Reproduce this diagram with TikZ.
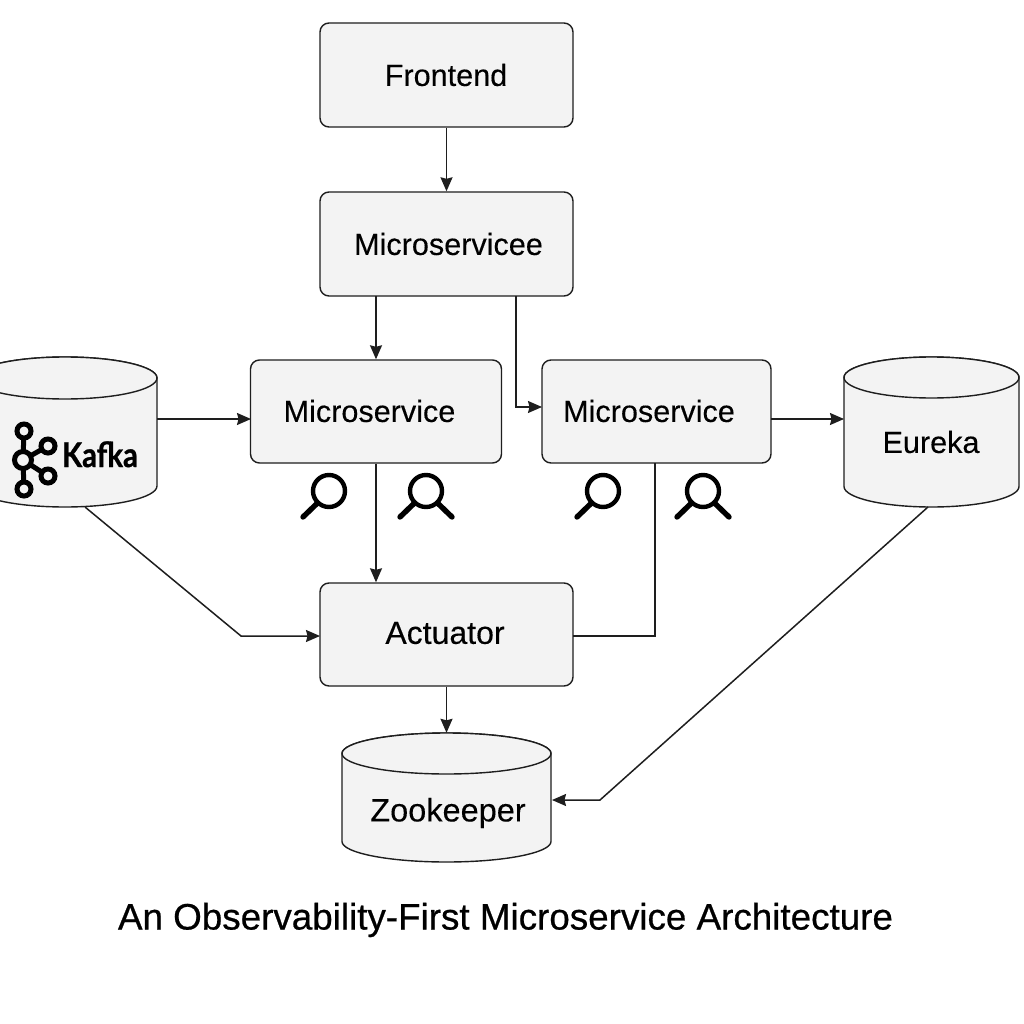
\documentclass[tikz,border=0pt]{standalone}
\usepackage{fontspec}
\setmainfont[RawFeature={embolden=0.25}]{Liberation Sans}
\newfontfamily\titlefont[RawFeature={embolden=0.6}]{Liberation Sans}
\newfontfamily\kafkafont[RawFeature={embolden=1}]{Lato}
\usetikzlibrary{arrows.meta,calc}
\definecolor{ink}{HTML}{1E1E1E}
\definecolor{boxfill}{HTML}{F3F3F3}
\tikzset{
  x=1pt,y=-1pt,
  svc/.style={draw=ink,fill=boxfill,line width=1.4pt,rounded corners=9pt,inner sep=0pt},
  cylbody/.style={draw=ink,fill=boxfill,line width=1.4pt},
  cylnode/.style={inner sep=0pt},
  lbl/.style={inner sep=0pt,text=black,font=\fontsize{30.6}{32}\selectfont},
  conn/.style={draw=ink,line width=1.5pt,-{Stealth[length=14pt,width=12pt,inset=1.5pt]}},
  plainconn/.style={draw=ink,line width=1.5pt},
  lens/.style={draw=black,line width=4.4pt},
  lenshandle/.style={draw=black,line width=5.4pt,line cap=round},
  logo/.style={draw=black,line width=5pt},
}
\newcommand{\cylshape}[6]{%
  \path[cylbody] (#2-#5,#3+#6) arc[start angle=180,end angle=0,x radius=#5,y radius=-#6]
     -- (#2+#5,#4-#6) arc[start angle=0,end angle=-180,x radius=#5,y radius=-#6] -- cycle;
  \path[cylbody] (#2-#5,#3+#6) arc[start angle=180,end angle=-180,x radius=#5,y radius=-#6];
  \node[cylnode,minimum width=2*#5 pt,minimum height={(#4-#3)*1pt}] (#1) at (#2,{(#3+#4)/2}) {};
}
\newcommand{\lensone}[1]{%
  \draw[lens] (#1,491) circle[radius=16];
  \draw[lenshandle] ($(#1,491)+(-11.5,12)$) -- ($(#1,491)+(-26,26)$);
}
\newcommand{\lenstwo}[1]{%
  \draw[lens] (#1,491) circle[radius=16];
  \draw[lenshandle] ($(#1,491)+(-11.5,12)$) -- ($(#1,491)+(-26,26)$);
  \draw[lenshandle] ($(#1,491)+(11.5,12)$) -- ($(#1,491)+(26,26)$);
}
\begin{document}
\begin{tikzpicture}
\useasboundingbox (0,0) rectangle (1024,1024);
\clip (0,0) rectangle (1024,1024);
\fill[white] (0,0) rectangle (1024,1024);

\node[svc,minimum width=253pt,minimum height=104pt] (front) at (446.5,75) {};
\node[lbl] (fronttxt) at (446,75) {Frontend};
\node[svc,minimum width=253pt,minimum height=104pt] (gate) at (446.5,244) {};
\node[lbl] (gatetxt) at (448.5,244) {Microservicee};
\node[svc,minimum width=251pt,minimum height=103pt] (mone) at (376,411.5) {};
\node[lbl] (monetxt) at (369.5,411) {Microservice};
\node[svc,minimum width=229pt,minimum height=103pt] (mtwo) at (656.5,411.5) {};
\node[lbl] (mtwotxt) at (649,411) {Microservice};
\node[svc,minimum width=253pt,minimum height=103pt] (act) at (446.5,634.5) {};
\node[lbl,font=\fontsize{32}{34}\selectfont] (acttxt) at (445,633) {Actuator};

\cylshape{kafka}{65}{357}{507}{92}{21}
\cylshape{eureka}{931.5}{357}{507}{87.5}{20.5}
\cylshape{zoo}{446.5}{733}{862}{104.5}{20.5}
\node[lbl] (eurekatxt) at (931,442) {Eureka};
\node[lbl,font=\fontsize{32.5}{34}\selectfont] (zootxt) at (448,813) {Zookeeper};

% Kafka logo
\draw[logo] (23,460) -- (24,431) (23,460) -- (24,489) (23,460) -- (48,446) (23,460) -- (48,476);
\filldraw[logo,fill=boxfill] (24,431) circle[radius=7];
\filldraw[logo,fill=boxfill] (24,489) circle[radius=7];
\filldraw[logo,fill=boxfill] (48,446) circle[radius=7];
\filldraw[logo,fill=boxfill] (48,476) circle[radius=7];
\filldraw[logo,fill=boxfill] (23,460) circle[radius=8.5];
\node[font=\kafkafont\bfseries\fontsize{34}{36}\selectfont,xscale=.86,inner sep=0pt,anchor=base] (kafkatxt) at (100,467) {Kafka};

% connectors
\coordinate (gateright) at (516,296);
\coordinate (kafkaout) at (85,507);
\coordinate (kafkabend) at (241,636);
\coordinate (eurekaout) at (928,507);
\coordinate (eurekabend) at (600,800);
\coordinate (kafkaside) at (157,419);
\coordinate (mtwoside) at (771,419);
\coordinate (eurekaside) at (844,419);
\coordinate (gateleft) at (376,296);
\coordinate (moneside) at (251,419);
\coordinate (mtwoin) at (542,407);
\coordinate (actin) at (320,636);
\coordinate (actout) at (573,636);
\coordinate (mtwoout) at (655,463);
\coordinate (zooin) at (552,800);

\draw[conn] (front.south) -- (gate.north);
\draw[conn] (gateleft) -- (mone.north);
\draw[conn] (gateright) |- (mtwoin);
\draw[conn] (kafkaside) -- (moneside);
\draw[conn] (mtwoside) -- (eurekaside);
\draw[conn] (mone.south) -- (mone.south |- act.north);
\draw[plainconn] (mtwoout) |- (actout);
\draw[conn] (act.south) -- (zoo.north);
\draw[conn] (kafkaout) -- (kafkabend) -- (actin);
\draw[conn] (eurekaout) -- (eurekabend) -- (zooin);

\lensone{329}
\lenstwo{426}
\lensone{603}
\lenstwo{703}

\node[inner sep=0pt,font=\titlefont\fontsize{36.8}{38}\selectfont] (title) at (505.5,920) {An Observability-First Microservice Architecture};
\end{tikzpicture}
\end{document}
